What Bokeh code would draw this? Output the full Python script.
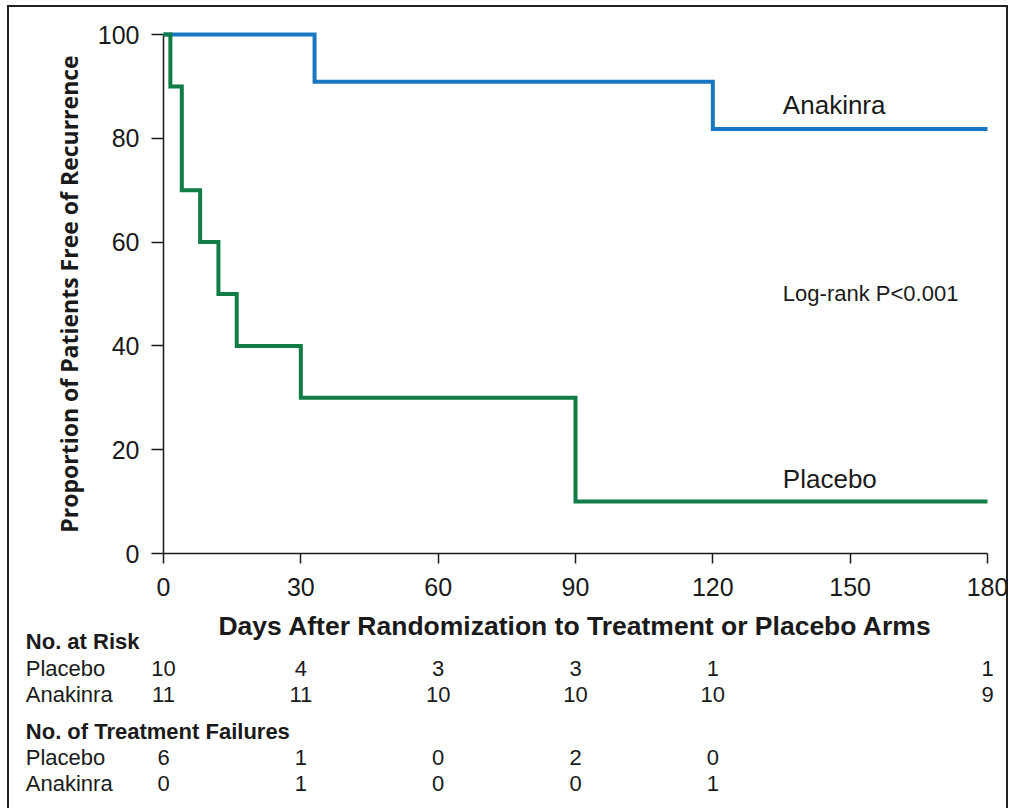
from bokeh.plotting import figure
from bokeh.models import FixedTicker, Range1d
from bokeh.core.properties import value
from bokeh.embed import file_html
from bokeh.resources import INLINE

# ---- data ----
placebo_days = [0, 1.5, 4, 8, 12, 16, 30, 90, 180]
placebo_free = [100, 90, 70, 60, 50, 40, 30, 10, 10]
anakinra_days = [0, 33, 120, 180]
anakinra_free = [100, 90.9, 81.8, 81.8]

risk_days = [0, 30, 60, 90, 120, 180]
placebo_at_risk = [10, 4, 3, 3, 1, 1]
anakinra_at_risk = [11, 11, 10, 10, 10, 9]

failure_days = [0, 30, 60, 90, 120]
placebo_failures = [6, 1, 0, 2, 0]
anakinra_failures = [0, 1, 0, 0, 1]

x_ticks = [0, 30, 60, 90, 120, 150, 180]
y_ticks = [0, 20, 40, 60, 80, 100]

# ---- layout ----
W, H = 1008, 808
ML, MR, MT, MB = 163, 21, 34, 255
FW = W - ML - MR
FH = H - MT - MB
px_x = FW / 180.0
px_y = FH / 100.0

FONT = "Liberation Sans"
BLUE = "#1a78c2"
GREEN = "#0f7d45"
INK = "#1a1a1a"

p = figure(width=W, height=H, x_range=Range1d(0, 180), y_range=Range1d(0, 100),
           output_backend="svg", toolbar_location=None,
           min_border_left=ML, min_border_right=MR, min_border_top=MT, min_border_bottom=MB)
p.outline_line_color = None
p.xgrid.visible = False
p.ygrid.visible = False
p.background_fill_color = "white"
p.border_fill_color = None
p.styles = {"box-shadow": ("inset 7px 0 0 0 #ffffff, inset 0 5px 0 0 #ffffff, "
                           "inset 9px 0 0 0 #222222, inset 0 7px 0 0 #222222, "
                           "inset -2px 0 0 0 #222222"),
            "background-color": "#ffffff"}

# axes
for ax in (p.xaxis[0], p.yaxis[0]):
    ax.axis_line_color = INK
    ax.axis_line_width = 1.5
    ax.major_tick_line_color = INK
    ax.major_tick_line_width = 1.5
    ax.major_tick_in = 0
    ax.minor_tick_line_color = None
    ax.major_label_text_font = FONT
    ax.major_label_text_font_size = "25px"
    ax.major_label_text_color = INK
    ax.axis_label_text_font_style = "bold"
    ax.axis_label_text_color = INK

p.xaxis.ticker = FixedTicker(ticks=x_ticks)
p.xaxis.major_tick_out = 10
p.xaxis.major_label_standoff = 14
p.xaxis.axis_label = "Days After Randomization to Treatment or Placebo Arms"
p.xaxis.axis_label_text_font = FONT
p.xaxis.axis_label_text_font_size = "26.5px"
p.xaxis.axis_label_standoff = 12

p.yaxis.ticker = FixedTicker(ticks=y_ticks)
p.yaxis.major_tick_out = 12
p.yaxis.major_label_standoff = 12
p.yaxis.axis_label = "Proportion of Patients Free of Recurrence"
p.yaxis.axis_label_text_font = "Open Sans"
p.yaxis.axis_label_text_font_size = "23px"
p.yaxis.axis_label_standoff = 10

# survival curves
p.step(anakinra_days, anakinra_free, mode="after", line_color=BLUE, line_width=4,
       line_join="miter", level="overlay")
p.step(placebo_days, placebo_free, mode="after", line_color=GREEN, line_width=4,
       line_join="miter", level="overlay")

# in-plot annotations
lab_x = 135.3
p.text(x=[lab_x], y=[86.4], text=["Anakinra"], text_font=value(FONT), text_font_size="26px",
       text_color=INK, text_baseline="alphabetic", level="overlay")
p.text(x=[lab_x], y=[14.3], text=["Placebo"], text_font=value(FONT), text_font_size="26px",
       text_color=INK, text_baseline="alphabetic", level="overlay")
p.text(x=[lab_x], y=[50.1], text=["Log-rank P<0.001"], text_font=value(FONT), text_font_size="22px",
       text_color=INK, text_baseline="alphabetic", level="overlay")

# table below the plot
def below(px):
    return -px / px_y

label_x = -137.7 / px_x
rows = [
    ("No. at Risk", "bold", 88, None, None),
    ("Placebo", "normal", 114.5, risk_days, placebo_at_risk),
    ("Anakinra", "normal", 140.5, risk_days, anakinra_at_risk),
    ("No. of Treatment Failures", "bold", 177.5, None, None),
    ("Placebo", "normal", 204, failure_days, placebo_failures),
    ("Anakinra", "normal", 229.5, failure_days, anakinra_failures),
]
for name, style, off, xs, vals in rows:
    yy = below(off)
    p.text(x=[label_x], y=[yy], text=[name], text_font=value(FONT), text_font_size="22px",
           text_font_style=style, text_color=INK, text_baseline="alphabetic", level="overlay")
    if xs is not None:
        p.text(x=xs, y=[yy] * len(xs), text=[str(v) for v in vals], text_font=value(FONT),
               text_font_size="22px", text_color=INK, text_align="center",
               text_baseline="alphabetic", level="overlay")

open("out.html", "w").write(file_html(p, INLINE))
